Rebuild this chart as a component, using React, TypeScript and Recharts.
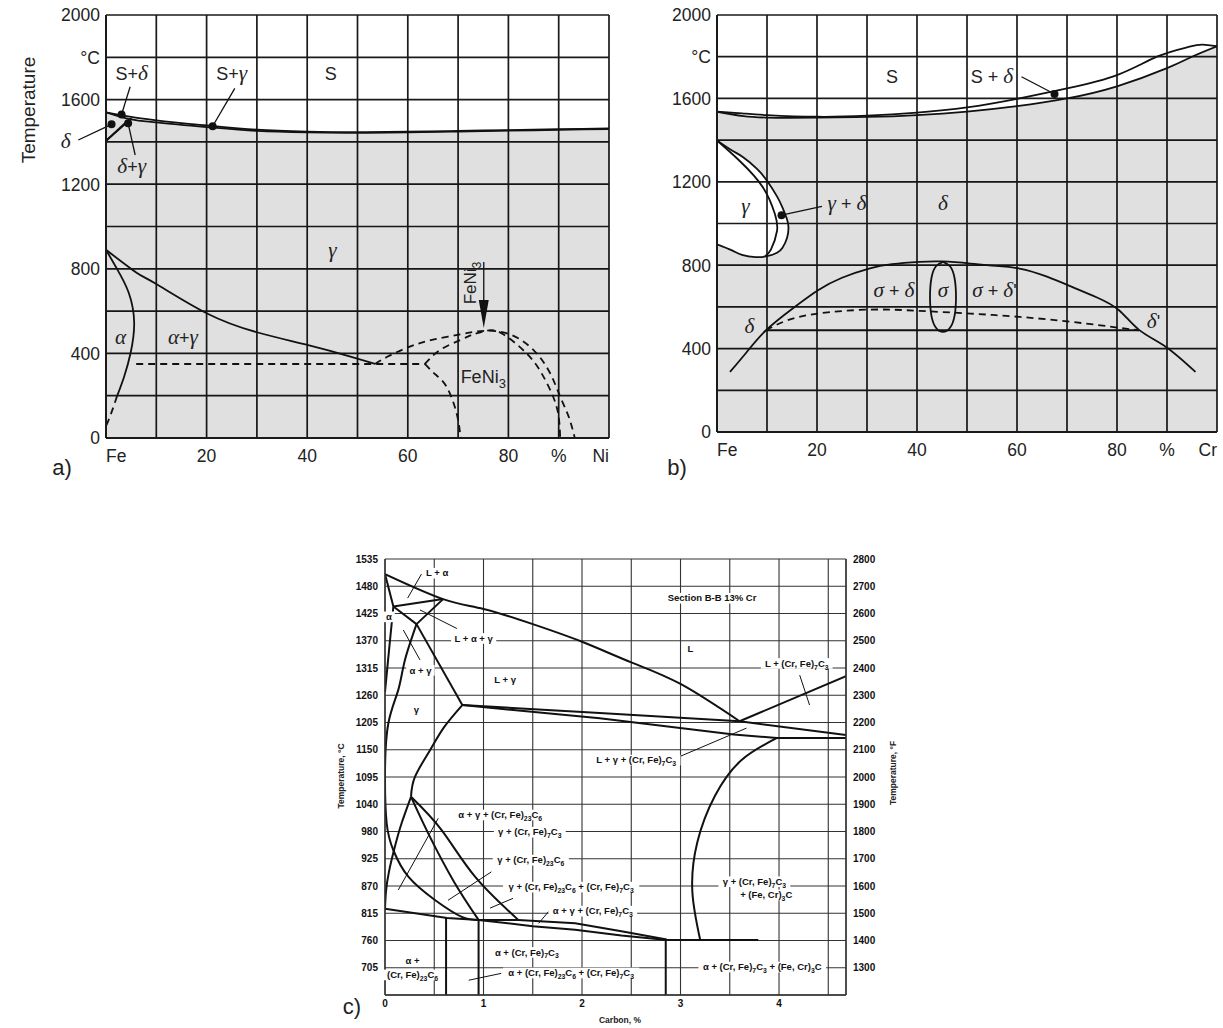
import React from 'react';
import {
  ComposedChart,
  Line,
  Area,
  XAxis,
  YAxis,
  CartesianGrid,
  ReferenceDot,
  ReferenceLine,
} from 'recharts';

type Pt = [number, number];

const SANS = '"Liberation Sans", Arial, Helvetica, sans-serif';
const SERIF = '"Liberation Serif", "DejaVu Serif", serif';

// ---------- a) Fe - Ni ----------
const aXTicks = [0, 10, 20, 30, 40, 50, 60, 70, 80, 90, 100];
const aXLabels = ['Fe', '', '20', '', '40', '', '60', '', '80', '%', 'Ni'];
const abYTicks = [0, 200, 400, 600, 800, 1000, 1200, 1400, 1600, 1800, 2000];
const abYLabels = ['0', '', '400', '', '800', '', '1200', '', '1600', '°C', '2000'];

const aLiquidus: Pt[] = [[0, 1540], [5, 1518], [10, 1502], [20, 1478], [30, 1458], [40, 1449], [50, 1446], [60, 1448], [70, 1452], [80, 1456], [90, 1460], [100, 1464]];
const aSolidus: Pt[] = [[0, 1540], [5, 1506], [10, 1492], [20, 1470], [30, 1452], [40, 1445], [50, 1443], [60, 1445], [70, 1449], [80, 1453], [90, 1457], [100, 1461]];
const aDeltaLow: Pt[] = [[0, 1405], [4.1, 1496]];
const aDeltaHigh: Pt[] = [[0, 1405], [5.1, 1512]];
const aAlpha: Pt[] = [[0, 890], [2.2, 799], [4.5, 688], [5.6, 546], [4.9, 403], [3.6, 290], [2.2, 198]];
const aAlphaLow: Pt[] = [[2.2, 198], [1, 115], [0, 55]];
const aGamma: Pt[] = [[0, 890], [6, 783], [10, 728], [20, 590], [30, 500], [40, 440], [48.6, 385], [53.5, 350]];
const aFlat: Pt[] = [[6, 350], [63.4, 350]];
const aDomeOuter: Pt[] = [[53.5, 350], [56, 385], [60.4, 432], [65, 465], [70.4, 490], [75.3, 507], [80.3, 490], [85, 416], [88.3, 306], [90.3, 195], [92, 100], [93.2, 0]];
const aDomeInner: Pt[] = [[63.4, 350], [66.4, 416], [70.4, 463], [73, 490], [75.3, 505], [78.5, 497], [83.6, 400], [86.6, 306], [88.9, 195], [90, 100], [90.3, 0]];
const aDomeLeft: Pt[] = [[63.4, 350], [65.5, 300], [67.7, 243], [69.7, 117], [70.5, 0]];

const aLabels = [
  { text: 'S+δ', at: [5.1, 1724] as Pt },
  { text: 'S+γ', at: [25, 1724] as Pt },
  { text: 'S', at: [44.7, 1724] as Pt },
  { text: 'δ', at: [-8, 1401] as Pt },
  { text: 'δ+γ', at: [5.1, 1283] as Pt },
  { text: 'γ', at: [45, 886] as Pt },
  { text: 'α', at: [2.9, 475] as Pt },
  { text: 'α+γ', at: [15.3, 475] as Pt },
  { text: 'FeNi_{3}', at: [75, 290] as Pt },
];
const aUprightLabels = [{ text: 'FeNi_{3}', at: [72.4, 733] as Pt }];
const aDots: Pt[] = [[3.1, 1530], [1.1, 1483], [4.4, 1488], [21.2, 1474]];
const aLeaders: [Pt, Pt][] = [
  [[4.8, 1661], [3.1, 1530]],
  [[25.6, 1653], [21.2, 1474]],
  [[-5.5, 1409], [1.1, 1483]],
  [[5.8, 1338], [4.4, 1488]],
  [[75.1, 832], [75.1, 560]],
];
const aArrowTips: Pt[] = [[75.1, 520]];

// ---------- b) Fe - Cr ----------
const bXLabels = ['Fe', '', '20', '', '40', '', '60', '', '80', '%', 'Cr'];
const bLiquidus: Pt[] = [[0, 1536], [5, 1528], [10, 1520], [20, 1512], [30, 1517], [40, 1532], [50, 1557], [60, 1598], [70, 1648], [80, 1712], [88, 1800], [94, 1845], [97, 1858], [100, 1850]];
const bSolidus: Pt[] = [[0, 1536], [5.3, 1515], [10, 1508], [14.3, 1507], [20, 1508], [30, 1511], [40, 1520], [50, 1537], [60, 1563], [70, 1600], [80, 1658], [90, 1745], [95, 1800], [100, 1850]];
const bLoopTop: Pt[] = [[0, 1398], [3, 1350], [5.3, 1317], [8, 1262], [10, 1205], [12, 1130], [13.1, 1076], [14, 1020], [14.3, 980]];
const bLoopBottom: Pt[] = [[14.3, 980], [14, 930], [13.1, 884], [12, 860], [10, 843], [7.7, 839], [5, 850], [3, 871], [0, 900]];
const bLoopCeil: Pt[] = [[0, 1536], [3, 1524], [5.3, 1515], [8, 1511], [10, 1508], [12, 1507], [13.1, 1507], [14, 1507], [14.3, 1507]];
const bLoopInner: Pt[] = [[0, 1398], [4.5, 1301], [9.2, 1173], [11.6, 1044], [12, 964], [10.8, 876], [9.6, 843]];
const bDome: Pt[] = [[2.6, 288], [6, 385], [9.8, 488], [15, 590], [20.2, 680], [25, 740], [30.4, 784], [35, 805], [40.5, 816], [45, 818], [50.7, 808], [55, 798], [60.5, 784], [66, 745], [71, 696], [76, 645], [80.4, 584], [84.4, 490], [89.8, 408], [95.7, 288]];
const bFlat: Pt[] = [[9.8, 488], [84.4, 488]];
const bDashed: Pt[] = [[9.8, 488], [14, 535], [20.2, 568], [30.4, 587], [40.5, 581], [50.7, 568], [60.5, 552], [71, 528], [80.4, 500], [84.4, 488]];
const bSigma: Pt[] = [[45.2, 816], [46.6, 795], [47.5, 740], [47.8, 648], [47.5, 556], [46.6, 500], [45.2, 480], [43.8, 500], [42.9, 556], [42.6, 648], [42.9, 740], [43.8, 795], [45.2, 816]];

const bLabels = [
  { text: 'S', at: [35, 1704] as Pt },
  { text: 'S + δ', at: [55, 1704] as Pt },
  { text: 'γ', at: [5.7, 1080] as Pt },
  { text: 'γ + δ', at: [26, 1093] as Pt },
  { text: 'δ', at: [45.2, 1093] as Pt },
  { text: 'σ + δ', at: [35.4, 680] as Pt },
  { text: 'σ', at: [45.2, 680] as Pt },
  { text: "σ + δ'", at: [55.5, 680] as Pt },
  { text: 'δ', at: [6.5, 504] as Pt },
  { text: "δ'", at: [87.3, 528] as Pt },
];
const bDots: Pt[] = [[12.9, 1040], [67.5, 1621]];
const bLeaders: [Pt, Pt][] = [
  [[12.9, 1040], [21, 1082]],
  [[60.9, 1704], [67.5, 1621]],
];

// ---------- c) Section B-B 13% Cr ----------
const cXTicks = [0, 0.5, 1, 1.5, 2, 2.5, 3, 3.5, 4, 4.5];
const cXLabels = ['0', '', '1', '', '2', '', '3', '', '4', ''];
const cFTicks = [1200, 1300, 1400, 1500, 1600, 1700, 1800, 1900, 2000, 2100, 2200, 2300, 2400, 2500, 2600, 2700, 2800];
const cFLabels = ['', '1300', '1400', '1500', '1600', '1700', '1800', '1900', '2000', '2100', '2200', '2300', '2400', '2500', '2600', '2700', '2800'];
const cCLabels = ['', '705', '760', '815', '870', '925', '980', '1040', '1095', '1150', '1205', '1260', '1315', '1370', '1425', '1480', '1535'];

const cLiquidus: Pt[] = [[0, 1507], [0.59, 1456], [1, 1436], [1.5, 1405], [2, 1369], [2.5, 1327], [3, 1283], [3.6, 1207]];
const cCarbideLiq: Pt[] = [[3.6, 1207], [4.68, 1299]];
const cAlphaSolidus: Pt[] = [[0, 1507], [0.085, 1441]];
const cTriTop: Pt[] = [[0.085, 1441], [0.59, 1456]];
const cTriLeft: Pt[] = [[0.085, 1441], [0.32, 1405]];
const cTriRight: Pt[] = [[0.59, 1456], [0.32, 1405]];
const cAlphaEdge: Pt[] = [[0.085, 1441], [0.04, 1350], [0, 1267]];
const cGammaSolidus: Pt[] = [[0.32, 1405], [0.785, 1240]];
const cGammaAlpha: Pt[] = [[0.32, 1405], [0.2, 1330], [0.135, 1271], [0.034, 1203], [0, 1101], [0.017, 999], [0.085, 944], [0.237, 890], [0.51, 842], [0.78, 808], [0.95, 802]];
const cUpperTie: Pt[] = [[0.785, 1240], [2.18, 1224], [3.6, 1207], [4.68, 1179]];
const cLowerTie: Pt[] = [[0.785, 1240], [2.18, 1213], [3.54, 1180], [3.98, 1173], [4.68, 1173]];
const cGammaCarbide: Pt[] = [[0.785, 1240], [0.6, 1195], [0.457, 1148], [0.305, 1094], [0.264, 1053]];
const cApexLeft: Pt[] = [[0.264, 1053], [0.17, 1000], [0.1, 951], [0.04, 900], [0.01, 860], [0, 825]];
const cApexStraight: Pt[] = [[0.264, 1053], [0.44, 978], [0.7, 880], [0.95, 802]];
const cApexCurve: Pt[] = [[0.264, 1053], [0.575, 985], [0.914, 890], [1.353, 802]];
const cEutectoid: Pt[] = [[0, 825], [0.63, 806], [0.95, 802], [1.5, 789], [1.93, 782], [2.4, 770], [2.86, 761]];
const cEutectoidUpper: Pt[] = [[0.95, 802], [1.353, 802], [1.93, 795], [2.4, 779], [2.86, 762]];
const cCementiteLine: Pt[] = [[2.86, 761], [3.79, 761]];
const cArc: Pt[] = [[3.2, 761], [3.12, 860], [3.17, 960], [3.35, 1055], [3.62, 1128], [3.98, 1173]];
const cV1: Pt[] = [[0.62, 806], [0.62, 649]];
const cV2: Pt[] = [[0.95, 802], [0.95, 649]];
const cV3: Pt[] = [[2.85, 761], [2.85, 649]];

const cLabels = [
  { text: 'L + α', at: [0.53, 1509] as Pt },
  { text: 'L + α + γ', at: [0.9, 1376] as Pt },
  { text: 'α + γ', at: [0.36, 1311] as Pt },
  { text: 'γ', at: [0.32, 1230] as Pt },
  { text: 'L + γ', at: [1.22, 1291] as Pt },
  { text: 'α', at: [0.04, 1420] as Pt },
  { text: 'L', at: [3.1, 1354] as Pt },
  { text: 'Section B-B 13% Cr', at: [3.32, 1458] as Pt },
  { text: 'L + (Cr, Fe)_{7}C_{3}', at: [4.18, 1325] as Pt },
  { text: 'L + γ + (Cr, Fe)_{7}C_{3}', at: [2.55, 1128] as Pt },
  { text: 'α + γ + (Cr, Fe)_{23}C_{6}', at: [1.17, 1016] as Pt },
  { text: 'γ + (Cr, Fe)_{7}C_{3}', at: [1.47, 981] as Pt },
  { text: 'γ + (Cr, Fe)_{23}C_{6}', at: [1.48, 924] as Pt },
  { text: 'γ + (Cr, Fe)_{23}C_{6} + (Cr, Fe)_{7}C_{3}', at: [1.89, 869] as Pt },
  { text: 'α + γ + (Cr, Fe)_{7}C_{3}', at: [2.11, 820] as Pt },
  { text: 'α + (Cr, Fe)_{7}C_{3}', at: [1.44, 736] as Pt },
  { text: 'α + (Cr, Fe)_{23}C_{6} + (Cr, Fe)_{7}C_{3}', at: [1.89, 694] as Pt },
  { text: 'α +', at: [0.28, 718] as Pt },
  { text: '(Cr, Fe)_{23}C_{6}', at: [0.28, 690] as Pt },
  { text: 'γ + (Cr, Fe)_{7}C_{3}', at: [3.75, 880] as Pt },
  { text: '+ (Fe, Cr)_{3}C', at: [3.87, 853] as Pt },
  { text: 'α + (Cr, Fe)_{7}C_{3} + (Fe, Cr)_{3}C', at: [3.83, 706] as Pt },
];
const cLeaders: [Pt, Pt][] = [
  [[0.37, 1507], [0.23, 1458]],
  [[0.73, 1396], [0.355, 1434]],
  [[0.355, 1332], [0.186, 1393]],
  [[4.21, 1301], [4.31, 1240]],
  [[2.91, 1128], [3.67, 1193]],
  [[0.54, 1009], [0.135, 863]],
  [[1.08, 900], [0.64, 842]],
  [[1.3, 846], [1.066, 826]],
  [[1.66, 819], [1.56, 795]],
  [[1.18, 693], [0.85, 679]],
];

// ---------- helpers ----------
const toRows = (pts: Pt[]) => pts.map(([x, y]) => ({ x, y }));

function estWidth(text: string, size: number) {
  let w = 0;
  for (const part of text.split(/(_\{[^}]*\})/)) {
    if (!part) continue;
    if (part.startsWith('_{')) w += (part.length - 3) * size * 0.45;
    else
      for (const ch of part)
        w += ch === ' ' ? size * 0.28 : ',()'.includes(ch) ? size * 0.33 : size * 0.6;
  }
  return w;
}

function RichText({ x, y, text, size, weight, greekSerif, rotate, bg, color }: any) {
  const parts = text.split(/(_\{[^}]*\})/).filter(Boolean);
  const spans: any[] = [];
  let k = 0;
  let lowered = false;
  parts.forEach((p: string) => {
    if (p.startsWith('_{')) {
      spans.push(
        <tspan key={k++} dy={size * 0.3} fontSize={size * 0.72}>
          {p.slice(2, -1)}
        </tspan>,
      );
      lowered = true;
    } else {
      const runs = p.match(/[αγδσ]+|[^αγδσ]+/g) || [];
      runs.forEach((r) => {
        const g = greekSerif && /[αγδσ]/.test(r);
        spans.push(
          <tspan
            key={k++}
            dy={lowered ? -size * 0.3 : undefined}
            fontFamily={g ? SERIF : undefined}
            fontStyle={g ? 'italic' : undefined}
            fontSize={g ? size * 1.18 : size}
          >
            {r}
          </tspan>,
        );
        lowered = false;
      });
    }
  });
  const w = estWidth(text, size);
  return (
    <g transform={rotate ? `rotate(-90 ${x} ${y})` : undefined}>
      {bg && <rect x={x - w / 2 - 3} y={y - size * 0.55} width={w + 6} height={size * 1.12} fill={bg} />}
      <text x={x} y={y} dy="0.35em" textAnchor="middle" fontFamily={SANS} fontSize={size} fontWeight={weight} fill={color}>
        {spans}
      </text>
    </g>
  );
}

function PhaseChart(props: any) {
  const {
    width, height, margin, yAxisWidth, xAxisHeight, xDomain, yDomain, xTicks, xLabels, yTicks, yLabels,
    right, curves, fills, labels, upright, dots, leaders, tips, look,
  } = props;

  const pick = (ticks: number[], arr: string[], v: number) =>
    arr[ticks.findIndex((t) => Math.abs(t - v) < 1e-6)] || '';

  const xTick = (p: any) => {
    const t = pick(xTicks, xLabels, p.payload.value);
    if (!t) return <g />;
    const i = xTicks.indexOf(p.payload.value);
    const anchor = look.edgeAnchors ? (i === 0 ? 'start' : i === xTicks.length - 1 ? 'end' : 'middle') : 'middle';
    return (
      <text x={p.x} y={p.y} dy="0.71em" textAnchor={anchor} fontFamily={SANS} fontSize={look.tick} fontWeight={look.weight} fill={look.text}>
        {t}
      </text>
    );
  };
  const yTick = (p: any) => {
    const t = pick(yTicks, yLabels, p.payload.value);
    if (!t) return <g />;
    return (
      <text x={p.x} y={p.y} dy="0.36em" textAnchor="end" fontFamily={SANS} fontSize={look.tick} fontWeight={look.weight} fill={look.text}>
        {t}
      </text>
    );
  };
  const rTick = (p: any) => {
    const t = pick(right.ticks, right.labels, p.payload.value);
    if (!t) return <g />;
    return (
      <text x={p.x} y={p.y} dy="0.36em" textAnchor="start" fontFamily={SANS} fontSize={look.tick} fontWeight={look.weight} fill={look.text}>
        {t}
      </text>
    );
  };
  const axisLine = { stroke: look.grid, strokeWidth: look.gridWidth + 0.3 };

  return (
    <ComposedChart width={width} height={height} margin={margin}>
      <CartesianGrid stroke={look.grid} strokeWidth={look.gridWidth} />
      <XAxis
        type="number"
        dataKey="x"
        domain={xDomain}
        ticks={xTicks}
        interval={0}
        allowDataOverflow
        height={xAxisHeight}
        axisLine={axisLine}
        tickLine={false}
        tickSize={look.xTickSize}
        tickMargin={2}
        tick={xTick}
      />
      <YAxis
        type="number"
        domain={yDomain}
        ticks={yTicks}
        interval={0}
        allowDataOverflow
        width={yAxisWidth}
        axisLine={axisLine}
        tickLine={false}
        tickSize={look.yTickSize}
        tickMargin={2}
        tick={yTick}
      />
      {right && (
        <YAxis
          yAxisId="right"
          orientation="right"
          type="number"
          domain={right.domain}
          ticks={right.ticks}
          interval={0}
          allowDataOverflow
          width={right.width}
          axisLine={axisLine}
          tickLine={false}
          tickSize={5}
          tickMargin={2}
          tick={rTick}
        />
      )}
      {fills.map((f: any[], i: number) => (
        <Area
          key={'f' + i}
          data={f}
          dataKey="band"
          type="linear"
          stroke="none"
          fill="#000"
          fillOpacity={0.12}
          dot={false}
          activeDot={false}
          isAnimationActive={false}
        />
      ))}
      {curves.map((c: any, i: number) => (
        <Line
          key={'c' + i}
          data={toRows(c.pts)}
          dataKey="y"
          type={c.kind || 'natural'}
          stroke={look.line}
          strokeWidth={look.lineWidth}
          strokeDasharray={c.dash ? '7 5' : undefined}
          dot={false}
          activeDot={false}
          isAnimationActive={false}
        />
      ))}
      {labels.map((l: any, i: number) => (
        <ReferenceDot
          key={'l' + i}
          x={l.at[0]}
          y={l.at[1]}
          ifOverflow="visible"
          shape={(p: any) => (
            <RichText x={p.cx} y={p.cy} text={l.text} size={look.label} weight={look.weight} greekSerif={look.greekSerif} bg={look.labelBg} color={look.text} />
          )}
        />
      ))}
      {leaders.map((s: [Pt, Pt], i: number) => (
        <ReferenceLine
          key={'s' + i}
          segment={[{ x: s[0][0], y: s[0][1] }, { x: s[1][0], y: s[1][1] }]}
          stroke={look.line}
          strokeWidth={look.leaderWidth}
          ifOverflow="visible"
        />
      ))}
      {(upright || []).map((l: any, i: number) => (
        <ReferenceDot
          key={'u' + i}
          x={l.at[0]}
          y={l.at[1]}
          ifOverflow="visible"
          shape={(p: any) => (
            <RichText x={p.cx} y={p.cy} text={l.text} size={look.label - 1} weight={look.weight} rotate color={look.text} />
          )}
        />
      ))}
      {(dots || []).map((d: Pt, i: number) => (
        <ReferenceDot key={'d' + i} x={d[0]} y={d[1]} r={4} fill={look.line} stroke="none" ifOverflow="visible" />
      ))}
      {(tips || []).map((d: Pt, i: number) => (
        <ReferenceDot
          key={'t' + i}
          x={d[0]}
          y={d[1]}
          ifOverflow="visible"
          shape={(p: any) => (
            <polygon points={`${p.cx},${p.cy} ${p.cx - 5},${p.cy - 28} ${p.cx + 5},${p.cy - 28}`} fill={look.line} />
          )}
        />
      ))}
    </ComposedChart>
  );
}

const abLook = {
  grid: '#1a1a1a',
  gridWidth: 1.7,
  line: '#111',
  lineWidth: 1.8,
  leaderWidth: 1.3,
  text: '#222',
  tick: 17.5,
  label: 18,
  weight: 400,
  greekSerif: true,
  edgeAnchors: true,
  xTickSize: 10,
  yTickSize: 4,
};

const cLook = {
  grid: '#333',
  gridWidth: 1.1,
  line: '#111',
  lineWidth: 2,
  leaderWidth: 1,
  text: '#111',
  tick: 10,
  label: 9.5,
  weight: 700,
  greekSerif: false,
  edgeAnchors: false,
  labelBg: '#fff',
  xTickSize: 3,
  yTickSize: 5,
};

const aFill = [aSolidus.map(([x, y]) => ({ x, band: [0, y] }))];
const bFill = [
  [
    ...bLoopBottom.slice().reverse().map(([x, y]) => ({ x, band: [0, y] })),
    ...bSolidus.filter(([x]) => x >= 14.3).map(([x, y]) => ({ x, band: [0, y] })),
  ],
  bLoopTop.map(([x, y], i) => ({ x, band: [y, bLoopCeil[i][1]] })),
];

const cCTicks = cFTicks.map((f) => (f - 32) / 1.8);

function Caption({ x, y, text, size, rotate, weight }: any) {
  return (
    <div
      style={{
        position: 'absolute',
        left: x,
        top: y,
        transform: `translate(-50%, -50%)${rotate ? ' rotate(-90deg)' : ''}`,
        whiteSpace: 'nowrap',
        fontFamily: SANS,
        fontSize: size,
        fontWeight: weight || 400,
        color: '#222',
        lineHeight: 1,
      }}
    >
      {text}
    </div>
  );
}

export default function App() {
  return (
    <div style={{ position: 'absolute', left: 0, top: 0, width: 1223, height: 1028, background: '#fff', overflow: 'hidden' }}>
      <div style={{ position: 'absolute', left: 0, top: 0 }}>
        <PhaseChart
          width={620}
          height={480}
          margin={{ top: 15, right: 11, bottom: 12, left: 0 }}
          yAxisWidth={106}
          xAxisHeight={30}
          xDomain={[0, 100]}
          yDomain={[0, 2000]}
          xTicks={aXTicks}
          xLabels={aXLabels}
          yTicks={abYTicks}
          yLabels={abYLabels}
          fills={aFill}
          curves={[
            { pts: aLiquidus, kind: 'monotone' },
            { pts: aSolidus, kind: 'monotone' },
            { pts: aDeltaLow, kind: 'linear' },
            { pts: aDeltaHigh, kind: 'linear' },
            { pts: aAlpha },
            { pts: aAlphaLow, dash: true },
            { pts: aGamma },
            { pts: aFlat, dash: true, kind: 'linear' },
            { pts: aDomeOuter, dash: true },
            { pts: aDomeInner, dash: true },
            { pts: aDomeLeft, dash: true },
          ]}
          labels={aLabels}
          upright={aUprightLabels}
          dots={aDots}
          leaders={aLeaders}
          tips={aArrowTips}
          look={abLook}
        />
      </div>
      <div style={{ position: 'absolute', left: 610, top: 0 }}>
        <PhaseChart
          width={613}
          height={480}
          margin={{ top: 15, right: 6, bottom: 18, left: 0 }}
          yAxisWidth={107}
          xAxisHeight={30}
          xDomain={[0, 100]}
          yDomain={[0, 2000]}
          xTicks={aXTicks}
          xLabels={bXLabels}
          yTicks={abYTicks}
          yLabels={abYLabels}
          fills={bFill}
          curves={[
            { pts: bLiquidus },
            { pts: bSolidus },
            { pts: [...bLoopTop, ...bLoopBottom.slice(1)] },
            { pts: bLoopInner },
            { pts: bDome },
            { pts: bFlat, kind: 'linear' },
            { pts: bDashed, dash: true },
            { pts: bSigma },
          ]}
          labels={bLabels}
          dots={bDots}
          leaders={bLeaders}
          look={abLook}
        />
      </div>
      <div style={{ position: 'absolute', left: 300, top: 530 }}>
        <PhaseChart
          width={620}
          height={498}
          margin={{ top: 29, right: 14, bottom: 8, left: 0 }}
          yAxisWidth={85}
          xAxisHeight={25}
          xDomain={[0, 4.68]}
          yDomain={[cCTicks[0], cCTicks[cCTicks.length - 1]]}
          xTicks={cXTicks}
          xLabels={cXLabels}
          yTicks={cCTicks}
          yLabels={cCLabels}
          right={{ domain: [1200, 2800], ticks: cFTicks, labels: cFLabels, width: 60 }}
          fills={[]}
          curves={[
            { pts: cLiquidus },
            { pts: cCarbideLiq, kind: 'linear' },
            { pts: cAlphaSolidus, kind: 'linear' },
            { pts: cTriTop, kind: 'linear' },
            { pts: cTriLeft, kind: 'linear' },
            { pts: cTriRight, kind: 'linear' },
            { pts: cAlphaEdge },
            { pts: cGammaSolidus, kind: 'linear' },
            { pts: cGammaAlpha },
            { pts: cUpperTie, kind: 'linear' },
            { pts: cLowerTie, kind: 'linear' },
            { pts: cGammaCarbide },
            { pts: cApexLeft },
            { pts: cApexStraight },
            { pts: cApexCurve },
            { pts: cEutectoid, kind: 'linear' },
            { pts: cEutectoidUpper, kind: 'linear' },
            { pts: cCementiteLine, kind: 'linear' },
            { pts: cArc },
            { pts: cV1, kind: 'linear' },
            { pts: cV2, kind: 'linear' },
            { pts: cV3, kind: 'linear' },
          ]}
          labels={cLabels}
          leaders={cLeaders}
          look={cLook}
        />
      </div>
      <Caption x={28} y={110} text="Temperature" size={19} rotate />
      <Caption x={62} y={468} text="a)" size={22} />
      <Caption x={677} y={468} text="b)" size={22} />
      <Caption x={352} y={1007} text="c)" size={22} />
      <Caption x={341} y={776} text="Temperature, °C" size={8.5} weight={700} rotate />
      <Caption x={893} y={773} text="Temperature, °F" size={8.5} weight={700} rotate />
      <Caption x={620} y={1020} text="Carbon, %" size={8.5} weight={700} />
    </div>
  );
}
